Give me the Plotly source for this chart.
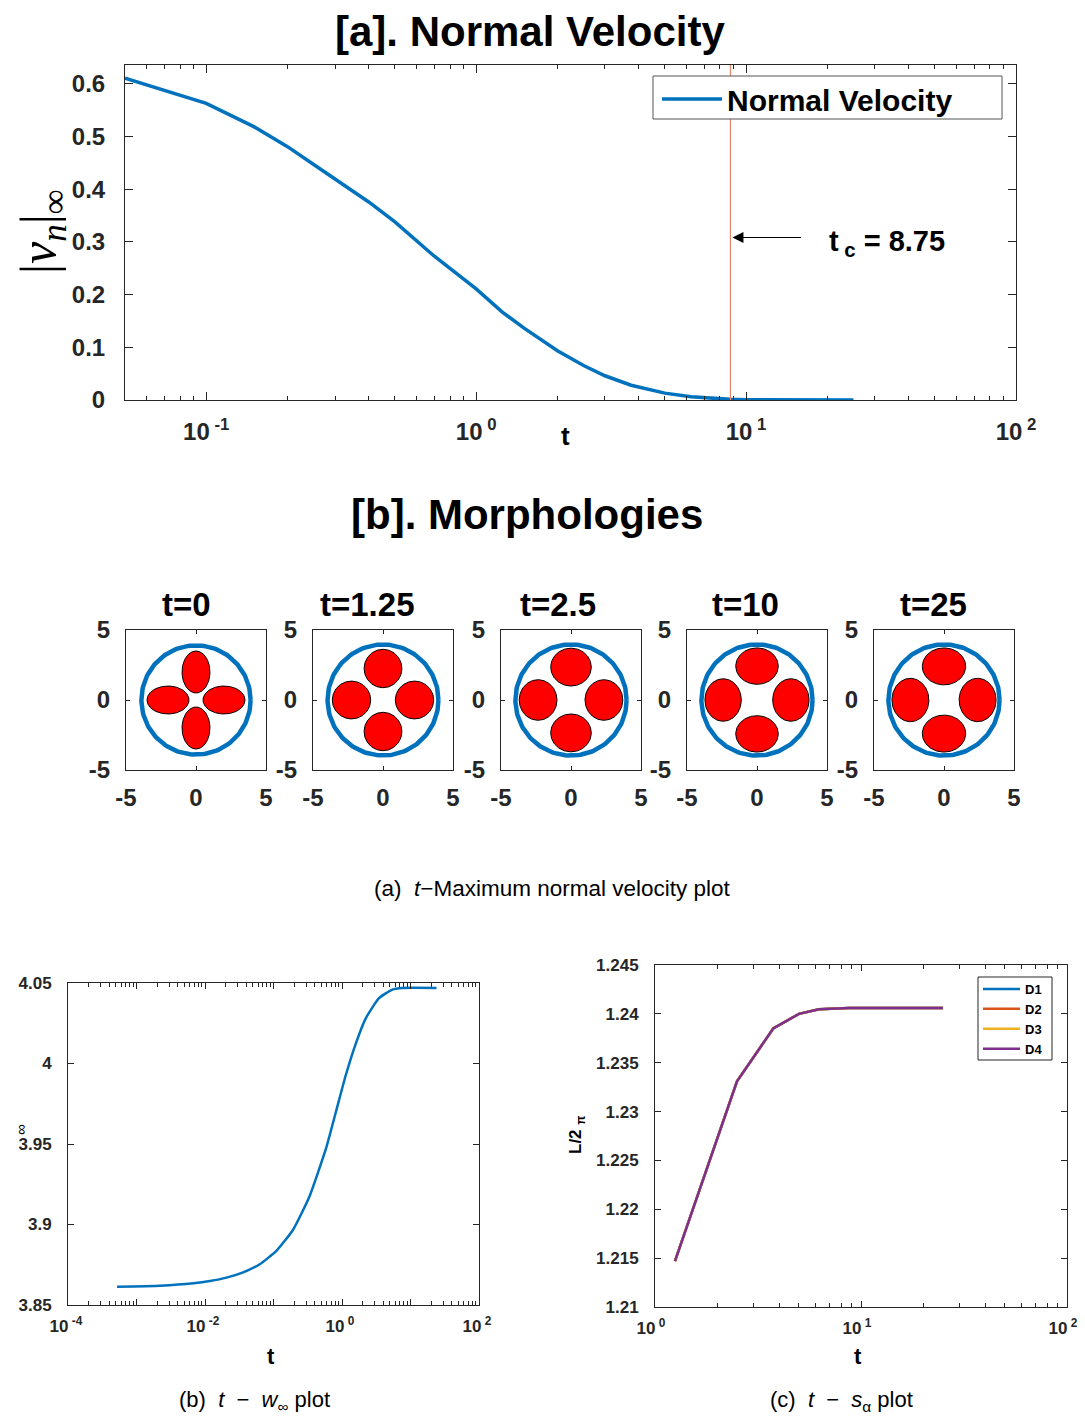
import numpy as np
import plotly.graph_objects as go

W, H = 1085, 1416
OFF = 8  # page body margin shifts the figure; positions below are given in page pixels
FONT = "Liberation Sans"
SERIF = "Liberation Serif"
INK = "#262626"
BLUE, ORANGE, YELLOW, PURPLE = "#0072BD", "#D95319", "#EDB120", "#7E2F8E"
NB = "\u00a0"

# ---------------- [a] normal velocity ----------------
t_a = [0.05, 0.1, 0.15, 0.2, 0.25, 0.3, 0.35, 0.4, 0.5, 0.7, 1.0, 1.25, 1.5, 2.0,
       2.5, 3.0, 3.75, 5.0, 6.25, 7.5, 8.75, 10.0, 12.5, 15.0, 20.0, 25.0]
vn_inf = [0.611, 0.563, 0.519, 0.481, 0.447, 0.419, 0.396, 0.376, 0.338, 0.273,
          0.211, 0.167, 0.137, 0.0936, 0.0654, 0.046, 0.028, 0.013, 0.006, 0.003,
          0.0012, 0.0006, 0.0002, 0.0001, 0.0, 0.0]
t_critical = 8.75
a_yticks = [0, 0.1, 0.2, 0.3, 0.4, 0.5, 0.6]
a_xticks = [0.1, 1, 10, 100]
a_xticktext = ["10<sup> -1</sup>", "10<sup> 0</sup>", "10<sup> 1</sup>", "10<sup> 2</sup>"]

# ---------------- [b] morphologies ----------------
morph_titles = ["t=0", "t=1.25", "t=2.5", "t=10", "t=25"]
outer_radius = [3.9, 3.96, 3.97, 3.97, 3.97]
drop_center = [2.0, 2.25, 2.35, 2.42, 2.4]
drop_radial = [1.5, 1.37, 1.35, 1.3, 1.32]
drop_tangential = [1.0, 1.35, 1.45, 1.52, 1.55]
drop_angles = [0, 90, 180, 270]

# ---------------- (b) t - w_inf ----------------
t_b = [5.2e-4, 2.2e-3, 6.8e-3, 0.0118, 0.0206, 0.036, 0.063, 0.11, 0.192, 0.335,
       0.586, 0.818, 1.14, 1.6, 2.23, 3.49, 5.44, 7.6, 24.0]
w_inf = [3.8614, 3.862, 3.8635, 3.8649, 3.867, 3.8703, 3.8753, 3.8836, 3.8966,
         3.9174, 3.9474, 3.9702, 3.993, 4.0127, 4.0282, 4.0407, 4.0459, 4.0469,
         4.0469]
b_yticks = [3.85, 3.9, 3.95, 4.0, 4.05]

# ---------------- (c) t - s_alpha ----------------
t_c = [1.25, 2.5, 3.75, 5.0, 6.25, 7.5, 8.75, 10.0, 11.25, 12.5, 13.75, 15.0,
       16.25, 17.5, 18.75, 20.0, 21.25, 22.5, 23.75, 25.0]
L_D1 = [1.2147, 1.2331, 1.2385, 1.2400, 1.24048, 1.24058, 1.2406, 1.2406, 1.2406,
        1.2406, 1.2406, 1.2406, 1.2406, 1.2406, 1.2406, 1.2406, 1.2406, 1.2406,
        1.2406, 1.2406]
L_D2 = list(L_D1)
L_D3 = list(L_D1)
L_D4 = list(L_D1)
series_names = ["D1", "D2", "D3", "D4"]
series_colors = [BLUE, ORANGE, YELLOW, PURPLE]
c_yticks = [1.21, 1.215, 1.22, 1.225, 1.23, 1.235, 1.24, 1.245]


def px(x):
    return (x - OFF) / W


def py(y):
    return 1 - (y - OFF) / H


def dom_x(x0, x1):
    return [px(x0), px(x1)]


def dom_y(y0, y1):
    return [py(y1), py(y0)]


def tfont(size):
    return dict(family=FONT, size=size, color=INK, weight="bold")


def ann(text, x, y, size, bold=True, angle=0, xanchor="center", yanchor="middle",
        family=FONT, color="black"):
    return dict(text=text, x=px(x), y=py(y), xref="paper", yref="paper",
                showarrow=False, xanchor=xanchor, yanchor=yanchor, textangle=angle,
                font=dict(family=family, size=size, color=color,
                          weight="bold" if bold else "normal"))


base_axis = dict(showline=True, linecolor=INK, linewidth=1, mirror="ticks",
                 ticks="inside", tickcolor=INK, showgrid=False, zeroline=False,
                 tickmode="array", automargin=False, fixedrange=True)

fig = go.Figure()

# top trace
fig.add_trace(go.Scatter(x=t_a, y=vn_inf, mode="lines", name="Normal Velocity",
                         line=dict(color=BLUE, width=3.5), xaxis="x", yaxis="y",
                         legend="legend"))

# morph panels
phi = np.linspace(0, 2 * np.pi, 181)
for i in range(5):
    xa, ya = f"x{i + 2}", f"y{i + 2}"
    R = outer_radius[i]
    fig.add_trace(go.Scatter(x=R * np.cos(phi), y=R * np.sin(phi), mode="lines",
                             line=dict(color=BLUE, width=4.5), xaxis=xa, yaxis=ya,
                             showlegend=False, hoverinfo="skip"))
    for ang in drop_angles:
        th = np.deg2rad(ang)
        c, a, b = drop_center[i], drop_radial[i], drop_tangential[i]
        lx, ly = a * np.cos(phi), b * np.sin(phi)
        x = c * np.cos(th) + lx * np.cos(th) - ly * np.sin(th)
        y = c * np.sin(th) + lx * np.sin(th) + ly * np.cos(th)
        fig.add_trace(go.Scatter(x=x, y=y, mode="lines", fill="toself",
                                 fillcolor="#FF0000", line=dict(color="black", width=1),
                                 xaxis=xa, yaxis=ya, showlegend=False, hoverinfo="skip"))

# bottom-left
fig.add_trace(go.Scatter(x=t_b, y=w_inf, mode="lines",
                         line=dict(color=BLUE, width=2.5, shape="spline", smoothing=0.5),
                         xaxis="x7", yaxis="y7", showlegend=False))

# bottom-right
for name, col, vals in zip(series_names, series_colors, [L_D1, L_D2, L_D3, L_D4]):
    fig.add_trace(go.Scatter(x=t_c, y=vals, mode="lines", name=name,
                             line=dict(color=col, width=2.5), xaxis="x8", yaxis="y8",
                             legend="legend2"))

minor_log = dict(ticks="inside", ticklen=4, tickcolor=INK, dtick="D1")

layout = dict(
    width=W, height=H, margin=dict(l=0, r=0, t=0, b=0, pad=0, autoexpand=False),
    paper_bgcolor="white", plot_bgcolor="white",
    xaxis=dict(base_axis, type="log", domain=dom_x(125, 1016), range=[np.log10(0.05), 2],
               anchor="y", tickvals=a_xticks, ticktext=a_xticktext, ticklen=8,
               tickfont=tfont(24), ticklabelstandoff=10, minor=minor_log),
    yaxis=dict(base_axis, domain=dom_y(65, 400), range=[0, 0.636], anchor="x",
               tickvals=a_yticks, ticktext=[f"{v:g}" for v in a_yticks], ticklen=8,
               tickfont=tfont(24), ticklabelstandoff=14),
    legend=dict(x=px(657), y=py(73), xanchor="left", yanchor="top",
                borderwidth=0, bgcolor="rgba(0,0,0,0)",
                font=dict(family=FONT, size=30, color="black", weight="bold"),
                itemwidth=60),
    legend2=dict(x=px(978), y=py(974), xanchor="left", yanchor="top",
                 borderwidth=0, bgcolor="rgba(0,0,0,0)", tracegroupgap=0,
                 font=dict(family=FONT, size=13, color="black", weight="bold"),
                 itemwidth=37),
    showlegend=True,
)

panel_x = [(126, 266), (313, 453), (501, 641), (687, 827), (874, 1014)]
for i, (x0, x1) in enumerate(panel_x):
    n = i + 2
    layout[f"xaxis{n}"] = dict(base_axis, domain=dom_x(x0, x1), range=[-5, 5],
                               anchor=f"y{n}", tickvals=[-5, 0, 5],
                               ticktext=["-5", "0", "5"], ticklen=4,
                               tickfont=tfont(24), ticklabelstandoff=6)
    layout[f"yaxis{n}"] = dict(base_axis, domain=dom_y(630, 770), range=[-5, 5],
                               anchor=f"x{n}", tickvals=[-5, 0, 5],
                               ticktext=["-5", "0", "5"], ticklen=4,
                               tickfont=tfont(24), ticklabelstandoff=10)

layout["xaxis7"] = dict(base_axis, type="log", domain=dom_x(68, 479), range=[-4, 2],
                        anchor="y7", tickvals=[1e-4, 1e-3, 1e-2, 1e-1, 1, 10, 100],
                        ticktext=["10<sup> -4</sup>", "", "10<sup> -2</sup>", "",
                                  "10<sup> 0</sup>", "", "10<sup> 2</sup>"],
                        ticklen=6, tickfont=tfont(17), ticklabelstandoff=6,
                        ticklabelshift=-2, minor=minor_log)
layout["yaxis7"] = dict(base_axis, domain=dom_y(983, 1305), range=[3.85, 4.05],
                        anchor="x7", tickvals=b_yticks,
                        ticktext=[f"{v:g}" for v in b_yticks],
                        ticklen=6, tickfont=tfont(17), ticklabelstandoff=12)
layout["xaxis8"] = dict(base_axis, type="log", domain=dom_x(655, 1067), range=[0, 2],
                        anchor="y8", tickvals=[1, 10, 100],
                        ticktext=["10<sup> 0</sup>", "10<sup> 1</sup>", "10<sup> 2</sup>"],
                        ticklen=6, tickfont=tfont(17), ticklabelstandoff=6,
                        ticklabelshift=-4, minor=minor_log)
layout["yaxis8"] = dict(base_axis, domain=dom_y(965, 1307), range=[1.21, 1.245],
                        anchor="x8", tickvals=c_yticks,
                        ticktext=[f"{v:g}" for v in c_yticks],
                        ticklen=6, tickfont=tfont(17), ticklabelstandoff=12)

fig.update_layout(**layout)

# critical time line, legend frames and arrow
fig.add_shape(type="line", xref="x", yref="y domain", x0=t_critical, x1=t_critical,
              y0=0, y1=1, line=dict(color="#E8866A", width=1.2))
fig.add_shape(type="rect", xref="paper", yref="paper", x0=px(653), x1=px(1002),
              y0=py(119), y1=py(76), fillcolor="white",
              line=dict(color="#555555", width=1), layer="above")
fig.add_shape(type="rect", xref="paper", yref="paper", x0=px(978), x1=px(1052),
              y0=py(1060), y1=py(977), fillcolor="white",
              line=dict(color=INK, width=1), layer="above")
fig.add_annotation(x=np.log10(t_critical), y=0.3085, xref="x", yref="y", ax=72, ay=0,
                   axref="pixel", ayref="pixel", text="", showarrow=True, arrowhead=2,
                   arrowsize=2.2, arrowwidth=1, arrowcolor="black", standoff=2)

annotations = [
    ann("[a]. Normal Velocity", 530, 31, 42),
    ann("|<i>v</i><sub><i>n</i></sub>|<sub>∞</sub>", 42, 232, 50, bold=False,
        angle=-90, family=SERIF),
    ann(f"t<sub>{NB}c</sub> = 8.75", 827, 243, 29, xanchor="left"),
    ann("t", 565, 436, 26),
    ann("[b]. Morphologies", 527, 514, 42),
    ann(f"(a){NB}{NB}<i>t</i>−Maximum normal velocity plot", 552, 888, 22.5, bold=False),
    ann("∞", 20, 1130, 15, bold=False, angle=-90),
    ann("L/2 <sub>π</sub>", 577, 1135, 17, angle=-90),
    ann("t", 271, 1356, 22),
    ann("t", 858, 1356, 22),
    ann(f"(b){NB}{NB}<i>t</i>{NB}{NB}−{NB}{NB}<i>w</i><sub>∞</sub>{NB}plot", 254, 1401, 22,
        bold=False),
    ann(f"(c){NB}{NB}<i>t</i>{NB}{NB}−{NB}{NB}<i>s</i><sub>α</sub>{NB}plot", 841, 1401, 22,
        bold=False),
]
title_cx = [186, 367, 558, 745, 933]
for txt, cx in zip(morph_titles, title_cx):
    annotations.append(ann(txt, cx, 604, 33))
for a in annotations:
    fig.add_annotation(a)

fig.write_html("out.html")
